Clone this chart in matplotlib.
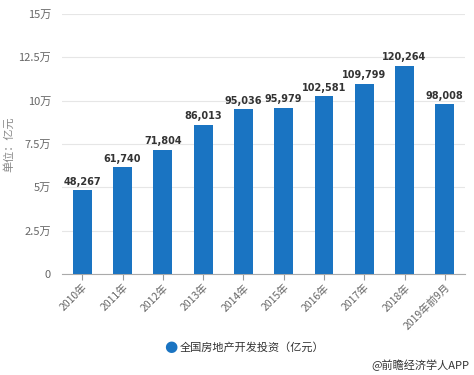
import matplotlib.pyplot as plt
from matplotlib.ticker import FixedLocator

plt.rcParams['font.family'] = ['Noto Sans CJK SC', 'DejaVu Sans']

# 全国房地产开发投资（亿元）
years = ['2010年', '2011年', '2012年', '2013年', '2014年', '2015年',
         '2016年', '2017年', '2018年', '2019年前9月']
invest = [48267, 61740, 71804, 86013, 95036, 95979, 102581, 109799, 120264, 98008]
yticks = [0, 25000, 50000, 75000, 100000, 125000, 150000]
ytick_labels = ['0', '2.5万', '5万', '7.5万', '10万', '12.5万', '15万']

bar_color = '#1a74c2'
grey = '#666666'

fig = plt.figure(figsize=(4.74, 3.75), dpi=100)
ax = fig.add_axes([0.131, 0.2693, 0.85, 0.6934])

x = range(len(years))
ax.bar(x, invest, width=0.47, color=bar_color, zorder=3)
for i, v in enumerate(invest):
    ax.text(i, v + 2000, f'{v:,}', ha='center', va='bottom',
            fontsize=7, fontweight='bold', color='#333333', family='DejaVu Sans')

ax.set_xlim(-0.5, len(years) - 0.5)
ax.set_ylim(0, 150000)
ax.yaxis.set_major_locator(FixedLocator(yticks))
ax.set_yticklabels(ytick_labels, fontsize=8, color=grey)
ax.set_xticks(list(x))
ax.set_xticklabels(years, fontsize=7.5, color=grey, rotation=45,
                   ha='right', rotation_mode='anchor')
ax.tick_params(axis='y', length=0, pad=8)
ax.tick_params(axis='x', length=4, color='#999999', pad=2)
ax.grid(axis='y', color='#e6e6e6', linewidth=0.8, zorder=0)
for s in ['top', 'right', 'left']:
    ax.spines[s].set_visible(False)
ax.spines['bottom'].set_color('#aaaaaa')

ax.set_ylabel('单位：亿元', fontsize=8, color='#888888')
ax.yaxis.set_label_coords(-0.12, 0.5)

# legend
fig.text(0.36, 0.0747, '●', fontsize=11, color=bar_color, ha='center', va='center',
         family='DejaVu Sans')
fig.text(0.38, 0.0747, '全国房地产开发投资（亿元）', fontsize=8, color='#333333',
         ha='left', va='center')
fig.text(0.99, 0.027, '@前瞻经济学人APP', fontsize=8, color='#333333',
         ha='right', va='center')

fig.savefig('out.png', dpi=100)
